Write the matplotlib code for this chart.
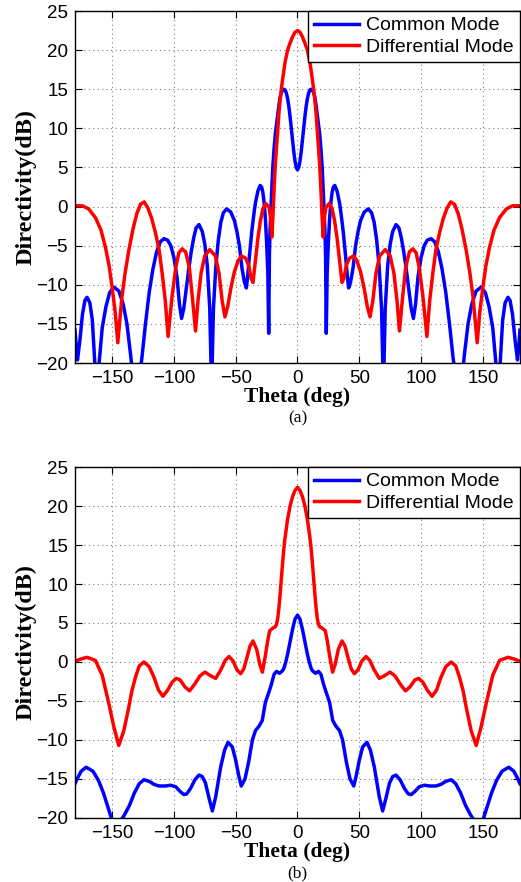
import numpy as np
import matplotlib
matplotlib.use("Agg")
import matplotlib.pyplot as plt

# ---- (a) readings for theta >= 0, pattern is symmetric about 0 ----
theta_a_cm = [0, 1, 2, 3, 4, 5, 6, 7, 8, 9, 10, 11, 12, 13, 14, 15, 16, 17, 18, 19, 20,
              21, 21.5, 22.2, 22.7, 23.3, 24, 25, 26, 27, 28, 29, 30.2, 32, 34, 35, 37, 39,
              40.5, 41.4, 43, 45, 47, 49, 51, 54, 57.3, 60, 62, 64, 66, 68, 69, 69.5, 70, 71,
              73, 75, 77, 79.7, 82, 84, 86, 88, 90, 92, 93.8, 95.5, 97.5, 100, 102.5, 105,
              108, 111, 114, 117, 120, 123, 126, 127, 130.5, 134, 135, 138, 141, 144.5, 148.6,
              152, 155, 158, 160.5, 162.2, 164, 166, 168, 170.3, 172, 174, 176, 178, 179, 180]
cm_a = [4.7, 5.0, 5.8, 7.0, 8.5, 10.0, 11.5, 12.8, 13.8, 14.5, 14.9, 15.0, 14.9, 14.6, 14.0,
        13.0, 11.7, 10.4, 9.2, 7.3, 5.0, 1.5, -0.3, -3.0, -6.0, -16.2, -8.5, -4.5, -1.5, 0.5,
        1.8, 2.5, 2.7, 2.0, 0.5, -0.6, -3.2, -6.5, -9.2, -10.4, -9.6, -7.8, -5.0, -3.2, -1.8,
        -0.7, -0.3, -0.8, -2.0, -4.2, -7.5, -13.0, -20.0, -30.0, -20.0, -13.0, -7.5, -4.8,
        -3.2, -2.3, -2.7, -4.0, -5.8, -8.0, -10.5, -13.0, -14.3, -12.5, -9.0, -6.5, -5.0,
        -4.3, -4.1, -4.5, -5.8, -8.0, -11.0, -15.0, -19.5, -20.5, -30.0, -20.5, -19.0, -15.0,
        -12.5, -10.8, -10.3, -11.0, -12.8, -15.5, -20.0, -30.0, -20.0, -14.5, -12.3, -11.6,
        -12.0, -13.8, -17.0, -19.6, -18.0, -15.8]

theta_a_dm = [0, 2, 4, 6, 8, 10, 12, 13, 14, 15, 16, 17, 18, 19, 19.8, 20.8, 21.7, 23, 25.7,
              28, 30, 32, 34, 36, 37.5, 39.5, 42, 45.4, 48, 51, 54, 56.5, 58.7, 61, 63.5,
              66.5, 71, 75, 78, 80.5, 82.5, 84.8, 87.5, 90.5, 93.3, 96, 98.5, 101.5, 104.7,
              107, 109.5, 112, 115, 118, 121, 124, 127, 130, 133, 136.5, 139.5, 142, 145.4,
              147.5, 150, 152.5, 155.4, 159, 163.5, 169, 174, 180]
dm_a = [22.5, 22.3, 21.7, 20.9, 20.0, 18.5, 16.3, 15.1, 13.7, 12.0, 9.8, 7.5, 5.2, 2.0, -1.0,
        -3.9, -1.5, -0.1, 0.4, -0.3, -1.8, -4.0, -6.8, -9.7, -9.2, -7.5, -6.6, -6.3, -6.9,
        -8.3, -10.5, -12.8, -14.1, -12.0, -8.5, -6.3, -5.5, -6.3, -8.5, -12.0, -15.9, -12.0,
        -7.8, -5.8, -5.4, -5.9, -7.8, -11.5, -16.6, -12.0, -8.5, -5.5, -3.3, -1.5, -0.2, 0.6,
        0.3, -0.9, -2.8, -5.6, -8.5, -11.5, -17.4, -13.5, -10.3, -7.5, -5.2, -3.0, -1.4, -0.3,
        0.1, 0.1]

# ---- (b) readings for theta >= 0 ----
theta_b_cm = [0, 2, 4, 6, 8, 9.5, 11, 12, 14.5, 17, 19, 21, 23, 26, 28.5, 31, 34, 36.5, 39.5,
              42.5, 45.5, 47.5, 50, 52.7, 56.2, 59, 62.2, 66.2, 68.9, 71.5, 74.5, 77, 79.7, 83,
              86.5, 89.5, 92, 95, 98.5, 102.7, 107, 112, 116, 120, 124.3, 128, 132, 136, 140,
              142, 146, 150.6, 153, 157, 161, 165.5, 171, 175, 178, 180]
cm_b = [6.0, 5.5, 4.2, 2.6, 1.0, 0.0, -0.8, -1.1, -1.45, -1.2, -1.6, -2.8, -3.8, -5.2, -7.5,
        -8.2, -8.8, -10.0, -12.8, -15.0, -15.9, -14.6, -12.6, -10.9, -10.3, -11.3, -13.5, -17.3,
        -19.1, -17.5, -15.5, -14.7, -14.5, -15.1, -16.2, -16.9, -17.0, -16.6, -16.0, -15.8,
        -15.9, -15.9, -15.7, -15.3, -15.1, -15.6, -16.8, -18.4, -19.6, -20.1, -21.5, -20.0,
        -18.8, -16.8, -15.2, -14.0, -13.5, -14.0, -14.9, -15.6]

theta_b_dm = [0, 2, 4, 6, 8, 10, 11, 12, 13, 14, 15, 16, 17, 18, 19.5, 21, 22.5, 24, 26, 28.4,
              30.5, 33, 36, 38.5, 41, 43.5, 46, 49, 52, 55.4, 58.5, 62, 66.2, 70, 74.9, 79,
              83, 87.3, 91, 95, 98.1, 101.5, 105, 108.9, 112.5, 116, 120, 124.3, 128, 131, 134,
              136.5, 140.5, 144.6, 148.6, 152.7, 158, 163.5, 170.3, 175, 180]
dm_b = [22.4, 22.0, 21.2, 20.0, 18.3, 16.0, 14.6, 12.8, 10.8, 8.8, 7.0, 5.6, 4.8, 4.5, 4.4,
        4.2, 4.0, 2.8, 0.8, -1.3, -0.3, 1.6, 2.7, 2.0, 0.5, -0.9, -1.5, -1.0, 0.1, 0.7, 0.2,
        -1.0, -2.1, -1.8, -1.3, -1.8, -2.8, -3.7, -3.2, -2.3, -2.1, -2.6, -3.6, -4.4, -3.6,
        -2.0, -0.6, 0.0, -0.5, -1.9, -3.7, -5.8, -8.8, -10.7, -8.3, -5.3, -1.7, 0.2, 0.6, 0.4,
        0.1]


def mirror(th, val):
    th = np.asarray(th, dtype=float)
    val = np.asarray(val, dtype=float)
    return np.concatenate([-th[:0:-1], th]), np.concatenate([val[:0:-1], val])


plt.rcParams['font.family'] = ['Liberation Sans', 'DejaVu Sans']

fig = plt.figure(figsize=(5.21, 8.82), dpi=100)
ax_a = fig.add_axes([0.144, 0.5884, 0.854, 0.3991])
ax_b = fig.add_axes([0.144, 0.0726, 0.854, 0.3979])

panels = [(ax_a, (theta_a_cm, cm_a), (theta_a_dm, dm_a), '(a)'),
          (ax_b, (theta_b_cm, cm_b), (theta_b_dm, dm_b), '(b)')]

for ax, cm, dm, tag in panels:
    x1, y1 = mirror(*cm)
    x2, y2 = mirror(*dm)
    ax.plot(x1, y1, color=(0, 0, 1), lw=2.5, label='Common Mode')
    ax.plot(x2, y2, color=(1, 0, 0), lw=2.5, label='Differential Mode')
    ax.set_xlim(-180, 180)
    ax.set_ylim(-20, 25)
    ax.set_xticks(np.arange(-150, 151, 50))
    ax.set_yticks(np.arange(-20, 26, 5))
    ax.grid(True, color='#808080', linestyle=(0, (1, 3)), linewidth=0.8)
    ax.tick_params(direction='in', top=True, right=True, length=5, labelsize=13.5, pad=5)
    for s in ax.spines.values():
        s.set_linewidth(1.0)
    ax.set_ylabel('Directivity(dB)', family='Liberation Serif', fontweight='bold',
                  fontsize=17.5, labelpad=0)
    ax.set_xlabel('Theta (deg)', family='Liberation Serif', fontweight='bold',
                  fontsize=15.5, labelpad=0)
    leg = ax.legend(loc='upper right', fontsize=14, borderaxespad=0, handlelength=2.3,
                    handletextpad=0.4, borderpad=0.3, labelspacing=0.2, fancybox=False,
                    framealpha=1)
    leg.get_frame().set_edgecolor('black')
    leg.get_frame().set_linewidth(1.0)
    ax.text(0.5, -0.158, tag, transform=ax.transAxes, ha='center', va='center',
            family='Liberation Serif', fontsize=12.5)

fig.savefig('out.png', dpi=100)
